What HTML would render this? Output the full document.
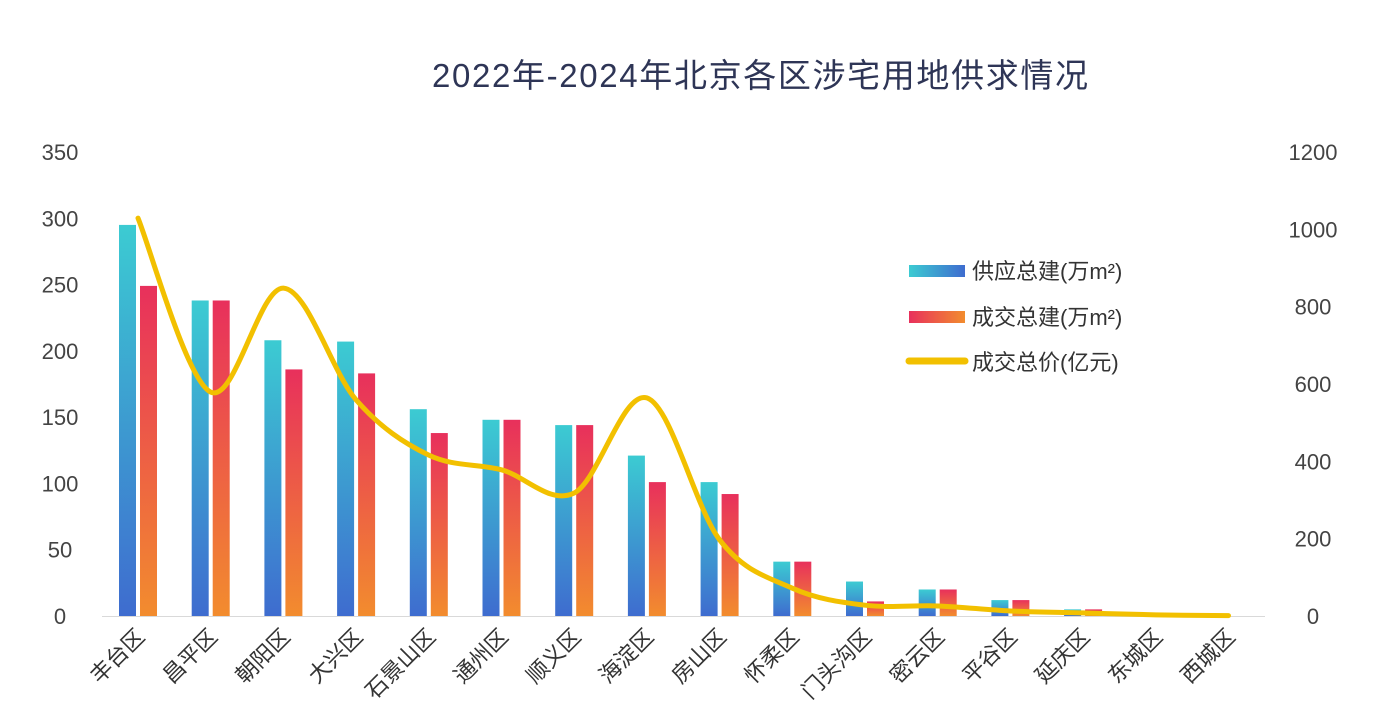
<!DOCTYPE html>
<html><head><meta charset="utf-8"><style>
body{margin:0;background:#fff;}
svg text{font-family:"Liberation Sans","Noto Sans CJK SC",sans-serif;}
</style></head><body>
<svg id="c" width="1386" height="718">
<defs>
<linearGradient id="gs" x1="0" y1="0" x2="0" y2="1"><stop offset="0" stop-color="#3ccbd2"/><stop offset="1" stop-color="#3e6ccf"/></linearGradient>
<linearGradient id="gd" x1="0" y1="0" x2="0" y2="1"><stop offset="0" stop-color="#e8305c"/><stop offset="1" stop-color="#f28c2e"/></linearGradient>
<linearGradient id="ls" x1="0" y1="0" x2="1" y2="0"><stop offset="0" stop-color="#3ccbd2"/><stop offset="1" stop-color="#3e6ccf"/></linearGradient>
<linearGradient id="ld" x1="0" y1="0" x2="1" y2="0"><stop offset="0" stop-color="#e8305c"/><stop offset="1" stop-color="#f28c2e"/></linearGradient>
</defs>
<text x="760" y="87" text-anchor="middle" font-size="33" fill="#2e3556" textLength="656">2022年-2024年北京各区涉宅用地供求情况</text>
<g id="g"></g>
<g>
<rect x="909" y="265" width="56" height="12" fill="url(#ls)"/>
<text x="972" y="279" font-size="22" fill="#333">供应总建(万m²)</text>
<rect x="909" y="311" width="56" height="12" fill="url(#ld)"/>
<text x="972" y="325" font-size="22" fill="#333">成交总建(万m²)</text>
<line x1="909" y1="361" x2="965" y2="361" stroke="#f2c000" stroke-width="7" stroke-linecap="round"/>
<text x="972" y="370" font-size="22" fill="#333">成交总价(亿元)</text>
</g>
</svg>
<script>
const categories=["丰台区","昌平区","朝阳区","大兴区","石景山区","通州区","顺义区","海淀区","房山区","怀柔区","门头沟区","密云区","平谷区","延庆区","东城区","西城区"];
const supply=[295,238,208,207,156,148,144,121,101,41,26,20,12,5,0,0];
const deal=[249,238,186,183,138,148,144,101,92,41,11,20,12,5,0,0];
const price=[1029,579,848,559,416,378,318,564,197,72,28,26,13,8,3,1];
const leftTicks=[0,50,100,150,200,250,300,350];
const rightTicks=[0,200,400,600,800,1000,1200];
const NS="http://www.w3.org/2000/svg";
const g=document.getElementById('g');
const y0=616,yTop=152;
const yL=v=>y0-(v/350)*(y0-yTop);
const yR=v=>y0-(v/1200)*(y0-yTop);
const xC=i=>138+i*72.7;
function mk(t,a,p){const e=document.createElementNS(NS,t);for(const k in a)e.setAttribute(k,a[k]);(p||g).appendChild(e);return e;}
leftTicks.forEach(v=>{const t=mk('text',{x:60,y:yL(v)+8,'text-anchor':'middle','font-size':22,fill:'#444'});t.textContent=v;

});
rightTicks.forEach(v=>{const t=mk('text',{x:1313,y:yR(v)+8,'text-anchor':'middle','font-size':22,fill:'#444'});t.textContent=v;

});
const ax=mk('line',{x1:102,x2:1265,y1:y0+0.5,y2:y0+0.5,stroke:'#d9d9d9','stroke-width':1});


categories.forEach((c,i)=>{
const x=xC(i);
const b1=mk('rect',{x:x-19,y:yL(supply[i]),width:17,height:y0-yL(supply[i]),fill:'url(#gs)'});


const b2=mk('rect',{x:x+2,y:yL(deal[i]),width:17,height:y0-yL(deal[i]),fill:'url(#gd)'});


const t=mk('text',{x:x+8,y:638,'text-anchor':'end','font-size':22,fill:'#333',transform:`rotate(-45 ${x+8} 638)`});
t.textContent=c;


});
const pts=price.map((v,i)=>[xC(i),yR(v)]);
let d=`M${pts[0][0]},${pts[0][1]}`;
for(let i=0;i<pts.length-1;i++){
const p0=pts[Math.max(0,i-1)],p1=pts[i],p2=pts[i+1],p3=pts[Math.min(pts.length-1,i+2)];
const c1=[p1[0]+(p2[0]-p0[0])/6,p1[1]+(p2[1]-p0[1])/6];
const c2=[p2[0]-(p3[0]-p1[0])/6,p2[1]-(p3[1]-p1[1])/6];
d+=` C${c1[0]},${c1[1]} ${c2[0]},${c2[1]} ${p2[0]},${p2[1]}`;
}
const ln=mk('path',{d:d,fill:'none',stroke:'#f2c000','stroke-width':5,'stroke-linecap':'round'});


</script>
</body></html>
